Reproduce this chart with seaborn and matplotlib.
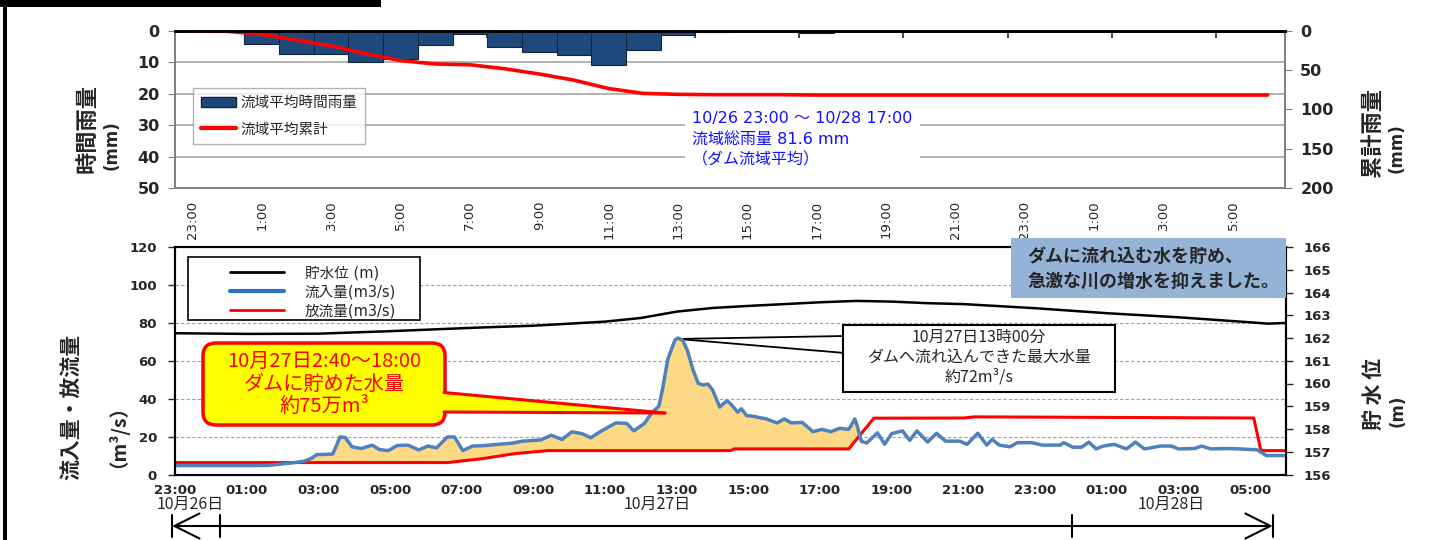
import numpy as np
import pandas as pd
import matplotlib
matplotlib.use("Agg")
import matplotlib.pyplot as plt
import matplotlib.transforms as mtransforms
import seaborn as sns
from matplotlib.lines import Line2D
from matplotlib.patches import Patch, Rectangle, FancyBboxPatch, Polygon, FancyArrowPatch

# ---- hourly basin rainfall, 10/26 23:00 -> 10/28 06:00 ----
rain_hours = ["23:00"] + [f"{h}:00" for h in range(24)] + [f"{h}:00" for h in range(7)]
rain_mm = [0.0, 0.3, 4.0, 7.3, 7.3, 10.0, 8.8, 4.3, 1.0, 5.1, 6.7, 7.8, 10.7, 6.2, 1.2, 0.4,
           0.0, 0.0, 0.5, 0.0, 0.0, 0.0, 0.0, 0.0, 0.0, 0.0, 0.0, 0.0, 0.0, 0.0, 0.0, 0.0]

# ---- dam flows, hours after 10/26 23:00 ----
inflow_t = [0.0, 1.0, 2.0, 2.6, 3.0, 3.3, 3.6, 3.8, 3.96, 4.2, 4.4, 4.5, 4.6, 4.75, 4.94, 5.2,
            5.5, 5.7, 5.95, 6.2, 6.5, 6.8, 7.06, 7.3, 7.6, 7.8, 8.03, 8.3, 8.6, 9.0, 9.4, 9.7,
            10.2, 10.5, 10.8, 11.07, 11.35, 11.6, 11.9, 12.3, 12.6, 12.8, 13.1, 13.3, 13.5, 13.6,
            13.75, 13.95, 14.03, 14.17, 14.3, 14.45, 14.6, 14.73, 14.87, 15.0, 15.2, 15.4, 15.5,
            15.7, 15.8, 15.95, 16.1, 16.5, 16.8, 17.0, 17.2, 17.5, 17.8, 18.05, 18.3, 18.55, 18.8,
            18.97, 19.05, 19.15, 19.3, 19.6, 19.8, 20.0, 20.3, 20.5, 20.7, 21.0, 21.25, 21.5, 21.9,
            22.1, 22.4, 22.65, 22.8, 23.0, 23.3, 23.5, 23.9, 24.2, 24.7, 24.8, 25.05, 25.3, 25.5,
            25.7, 25.9, 26.2, 26.55, 26.8, 27.05, 27.5, 27.8, 28.0, 28.45, 28.65, 28.9, 29.35,
            29.7, 30.2, 30.45, 31.0]
inflow_q = [4.7, 4.7, 4.7, 4.8, 5.6, 6.2, 7.0, 8.5, 10.5, 10.6, 10.8, 15.0, 19.8, 19.5, 14.6, 13.7,
            15.5, 13.2, 12.6, 15.3, 15.5, 13.0, 15.0, 14.1, 19.8, 19.8, 12.6, 15.0, 15.2, 15.9, 16.5, 17.6,
            18.2, 20.7, 18.5, 22.5, 21.6, 19.4, 23.0, 27.2, 27.0, 23.0, 27.0, 32.5, 36.0, 44.6,
            60.8, 70.9, 72.0, 70.7, 65.3, 55.4, 48.1, 47.2, 47.7, 44.6, 35.6, 38.9, 37.4,
            32.9, 34.7, 31.1, 30.8, 29.3, 27.2, 29.3, 27.2, 27.5, 22.6, 23.8, 22.6, 24.4, 23.8,
            29.3, 24.7, 17.5, 16.6, 22.0, 16.0, 21.6, 23.0, 18.0, 23.0, 17.1, 21.7, 17.6, 17.6,
            15.9, 21.8, 15.5, 18.5, 15.5, 14.6, 16.8, 16.8, 15.5, 15.5, 16.8, 14.4, 14.4, 17.1,
            13.5, 15.0, 15.9, 13.5, 17.1, 13.5, 15.0, 15.0, 13.5, 13.7, 15.0, 13.5, 13.7,
            13.5, 13.0, 10.0, 10.0]
outflow_t = [0.0, 7.6, 8.56, 9.48, 10.4, 15.5, 15.6, 18.8, 19.5, 22.0, 22.3, 30.1, 30.3, 31.0]
outflow_q = [6.3, 6.3, 8.3, 11.0, 12.6, 12.6, 13.5, 13.5, 29.7, 29.8, 30.4, 29.8, 12.6, 12.6]
level_t = [0, 2, 4, 6, 8.5, 10, 12, 13, 14, 15, 16, 17, 18, 19, 20, 21, 22, 24, 26, 28, 30, 30.5, 31]
level_m = [162.21, 162.18, 162.19, 162.3, 162.46, 162.54, 162.72, 162.88, 163.16, 163.32, 163.41,
           163.49, 163.57, 163.63, 163.6, 163.53, 163.49, 163.31, 163.09, 162.91, 162.69, 162.63, 162.66]
flow_ticks = ["23:00", "01:00", "03:00", "05:00", "07:00", "09:00", "11:00", "13:00",
              "15:00", "17:00", "19:00", "21:00", "23:00", "01:00", "03:00", "05:00"]
date_labels = ["10月26日", "10月27日", "10月28日"]

sns.set_style("white")
plt.rcParams["font.family"] = ["DejaVu Sans", "Noto Sans CJK JP"]
JP = ["Noto Sans CJK JP", "DejaVu Sans"]

W, H = 1444, 540
fig = plt.figure(figsize=(W / 100, H / 100), dpi=100)
inch = fig.dpi_scale_trans

# ================= rainfall panel =================
ax_r = fig.add_axes([175 / W, 1 - 188 / H, 1110 / W, 157 / H])
n = len(rain_mm)
rain_df = pd.DataFrame({"hour": np.arange(n), "rain": rain_mm})
sns.barplot(data=rain_df, x="hour", y="rain", ax=ax_r, color="#1F497D", edgecolor="#10253F",
            linewidth=0.8, width=1.0, saturation=1)
ax_r.set_ylim(50, 0)
ax_r.set_yticks(range(0, 51, 10))
ax_r.set_yticklabels([str(v) for v in range(0, 51, 10)], fontweight="bold", fontsize=11.5)
ax_r.yaxis.grid(True, color="#A6A6A6", lw=1.2)
ax_r.set_axisbelow(True)
ax_r.set_xticks(range(0, n, 2))
ax_r.set_xticklabels(rain_hours[::2], rotation=90, fontsize=9.5)
ax_r.set_xticks(np.arange(-0.5, n, 3), minor=True)
ax_r.tick_params(axis="x", which="major", length=0, pad=9)
ax_r.tick_params(axis="x", which="minor", bottom=False, top=True, direction="in", length=5, width=1.2)
ax_r.tick_params(axis="y", length=5, color="#808080", pad=6)
ax_r.set_xlabel("")
ax_r.set_ylabel("")

ax_c = ax_r.twinx()
sns.lineplot(x=np.arange(n), y=np.cumsum(rain_mm), ax=ax_c, color="#FF0000", lw=2.6)
ax_c.set_ylim(200, 0)
ax_c.set_yticks(range(0, 201, 50))
ax_c.set_yticklabels([str(v) for v in range(0, 201, 50)], fontweight="bold", fontsize=11.5)
ax_c.tick_params(axis="y", length=5, color="#808080", pad=6)
ax_c.set_ylabel("")
ax_r.set_xlim(-0.5, n - 0.5)
for a in (ax_r, ax_c):
    for side in ("left", "right", "bottom"):
        a.spines[side].set_color("#808080")
        a.spines[side].set_linewidth(1.3)
    a.spines["top"].set_color("black")
    a.spines["top"].set_linewidth(2)

ax_c.legend(handles=[Patch(fc="#1F497D", ec="#10253F"), Line2D([], [], color="#FF0000", lw=3)],
            labels=["流域平均時間雨量", "流域平均累計"], loc="upper left", bbox_to_anchor=(0.016, 0.637),
            borderaxespad=0, fancybox=False, edgecolor="#A0A0A0", handlelength=2.4, handleheight=0.65,
            handletextpad=0.3, labelspacing=0.85, borderpad=0.55, prop={"family": JP, "size": 10.5})
ax_c.text(0.466, 0.49, "10/26 23:00 ～ 10/28 17:00\n流域総雨量 81.6 mm\n（ダム流域平均）",
          transform=ax_c.transAxes, ha="left", va="top", color="#1010FF", fontsize=11.5,
          linespacing=1.45, bbox=dict(fc="white", ec="none", pad=5))

fig.text(87 / W, 1 - 173 / H, "時間雨量", rotation=90, ha="center", va="bottom",
         fontsize=16, fontweight="bold", family=JP)
fig.text(112 / W, 1 - 170 / H, "(mm)", rotation=90, ha="center", va="bottom",
         fontsize=12, fontweight="bold")
fig.text(1372 / W, 1 - 177 / H, "累計雨量", rotation=90, ha="center", va="bottom",
         fontsize=16, fontweight="bold", family=JP)
fig.text(1397 / W, 1 - 173 / H, "(mm)", rotation=90, ha="center", va="bottom",
         fontsize=12, fontweight="bold")

# ================= flow panel =================
ax_q = fig.add_axes([175 / W, 1 - 474.5 / H, 1111 / W, 227.5 / H])
t_all = np.union1d(inflow_t, outflow_t)
q_in = np.interp(t_all, inflow_t, inflow_q)
q_out = np.interp(t_all, outflow_t, outflow_q)
ax_q.fill_between(t_all, q_out, q_in, where=(t_all >= 3.0) & (t_all <= 19.5) & (q_in >= q_out),
                  interpolate=True, color="#FDD985", lw=0, zorder=2)
sns.lineplot(x=outflow_t, y=outflow_q, ax=ax_q, color="#FF0000", lw=2.2, zorder=4)
sns.lineplot(x=inflow_t, y=inflow_q, ax=ax_q, color="#4F81BD", lw=2.5, zorder=5)
ax_q.set_xlim(0, 31)
ax_q.set_ylim(0, 120)
ax_q.set_yticks(range(0, 121, 20))
ax_q.set_yticklabels([str(v) for v in range(0, 121, 20)], fontweight="bold", fontsize=9.5)
ax_q.set_xticks(range(0, 31, 2))
ax_q.set_xticklabels(flow_ticks, fontweight="bold", fontsize=9.5)
ax_q.tick_params(axis="x", length=0, pad=7)
ax_q.tick_params(axis="y", length=5, width=1, pad=8)
ax_q.yaxis.grid(True, ls=(0, (3, 2)), color="#A0A0A0", lw=0.8)
ax_q.set_axisbelow(True)
ax_q.set_xlabel("")
ax_q.set_ylabel("")

ax_l = ax_q.twinx()
sns.lineplot(x=level_t, y=level_m, ax=ax_l, color="black", lw=1.8)
ax_l.set_ylim(156, 166)
ax_l.set_yticks(range(156, 167))
ax_l.set_yticklabels([str(v) for v in range(156, 167)], fontweight="bold", fontsize=9.5)
ax_l.tick_params(axis="y", length=5, width=1, pad=8)
ax_l.set_ylabel("")
ax_q.set_xlim(0, 31)
for a in (ax_q, ax_l):
    for side in ("left", "right", "bottom", "top"):
        a.spines[side].set_color("black")
        a.spines[side].set_linewidth(1.5)

# legend: frame drawn separately so the entries can sit inset like the original
ax_l.add_patch(Rectangle((0.0117, 0.679), 0.2088, 0.277, transform=ax_l.transAxes,
                         fc="white", ec="black", lw=1.2, zorder=5))
leg = ax_l.legend(handles=[Line2D([], [], color="black", lw=2), Line2D([], [], color="#2E75C0", lw=3),
                           Line2D([], [], color="#FF0000", lw=2)],
                  labels=["貯水位 (m)", "流入量(m3/s)", "放流量(m3/s)"], loc="upper left",
                  bbox_to_anchor=(0.0459, 0.94), borderaxespad=0, frameon=False,
                  handlelength=3.7, handletextpad=1.4, labelspacing=0.28, borderpad=0.3,
                  prop={"family": ["DejaVu Sans", "Noto Sans CJK JP"], "size": 10.5})
leg.set_zorder(6)

xt = ax_q.get_xaxis_transform()
for t, lab in zip([0.42, 13.47, 27.8], date_labels):
    ax_q.text(t, -0.13, lab, transform=xt, ha="center", va="center", fontsize=11.5, family=JP)

fig.text(71 / W, 1 - 480 / H, "流入量・放流量", rotation=90, ha="center", va="bottom",
         fontsize=15, fontweight="bold", family=JP)
fig.text(108 / W, 1 - 468 / H, "（m³/s）", rotation=90, ha="center", va="bottom",
         fontsize=14, fontweight="bold", family=JP)
fig.text(1373 / W, 1 - 430 / H, "貯 水 位", rotation=90, ha="center", va="bottom",
         fontsize=15, fontweight="bold", family=JP)
fig.text(1398 / W, 1 - 427 / H, "(m)", rotation=90, ha="center", va="bottom",
         fontsize=12, fontweight="bold")

# ---- callouts ----
fig.add_artist(FancyBboxPatch((2.03, 1.15), 2.42, 0.82, boxstyle="round,pad=0,rounding_size=0.13",
                              transform=inch, fc="#FFFF00", ec="#FF0000", lw=2.5, zorder=2))
fig.add_artist(Polygon([(4.38, 1.475), (6.65, 1.27), (4.38, 1.28)], closed=True, transform=inch,
                       fc="#FFFF00", ec="none", zorder=3))
fig.add_artist(Line2D([4.44, 6.65], [1.475, 1.27], transform=inch, color="#FF0000", lw=2.2, zorder=3))
fig.add_artist(Line2D([4.44, 6.65], [1.28, 1.27], transform=inch, color="#FF0000", lw=2.2, zorder=3))
fig.text(3.24, 1.56, "10月27日2:40～18:00\nダムに貯めた水量\n約75万m³", transform=inch,
         ha="center", va="center", color="#FF0000", fontsize=14.5, linespacing=1.12, family=JP, zorder=4)

for yb in (2.04, 1.87):
    ax_q.annotate("", xy=(14.03, 71.5), xycoords="data", xytext=(8.45, yb), textcoords=inch,
                  arrowprops=dict(arrowstyle="-", lw=1.3, color="black", shrinkA=0, shrinkB=0))
fig.add_artist(Rectangle((8.43, 1.48), 2.72, 0.67, transform=inch, fc="white", ec="black",
                         lw=1.5, zorder=2))
fig.text(9.79, 1.83, "10月27日13時00分\nダムへ流れ込んできた最大水量\n約72m³/s", transform=inch,
         ha="center", va="center", fontsize=11.5, linespacing=1.2, family=JP, zorder=3)

fig.add_artist(Rectangle((10.11, 2.42), 2.75, 0.60, transform=inch, fc="#95B3D7", ec="none", zorder=2))
fig.text(10.27, 2.71, "ダムに流れ込む水を貯め、\n急激な川の増水を抑えました。", transform=inch,
         ha="left", va="center", fontsize=13, fontweight="bold", linespacing=1.4, family=JP, zorder=3)

# ---- date range arrow under the time axis ----
bt = mtransforms.blended_transform_factory(ax_q.transData, inch)
fig.add_artist(FancyArrowPatch((-0.08, 0.14), (30.63, 0.14), transform=bt,
                               arrowstyle="<->,head_length=0.9,head_width=0.45",
                               mutation_scale=20, lw=1.5, color="black", shrinkA=0, shrinkB=0))
for xv in (-0.08, 1.26, 25.02, 30.63):
    fig.add_artist(Line2D([xv, xv], [0.03, 0.25], transform=bt, color="black", lw=1.5))

# page frame bits
fig.add_artist(Rectangle((0, 5.33), 3.81, 0.08, transform=inch, fc="black", ec="none"))
fig.add_artist(Rectangle((0.03, 0), 0.035, 5.4, transform=inch, fc="black", ec="none"))

fig.savefig("out.png", dpi=100)
